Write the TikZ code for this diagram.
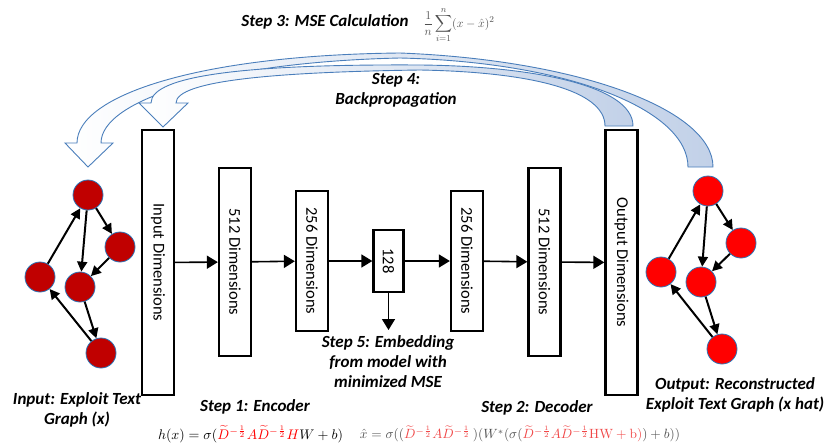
\documentclass[tikz,border=0pt]{standalone}
\usepackage[no-math]{fontspec}
\setmainfont{Carlito}
\usepackage{amsmath}
\usetikzlibrary{arrows.meta}
\definecolor{nodered}{HTML}{C00000}
\definecolor{outred}{HTML}{FF0000}
\definecolor{ringblue}{HTML}{2E75B6}
\definecolor{arcblue}{HTML}{4A7EBB}
\definecolor{arcfill}{HTML}{C2D1E8}
\definecolor{fadedred}{HTML}{F04848}
\definecolor{fadedgray}{HTML}{505050}
\begin{document}
\begin{tikzpicture}[x=1pt,y=-1pt,
  layer/.style={draw=black, line width=2.3pt, fill=white, minimum width=32pt,
    inner sep=0pt, font=\fontsize{16.5}{18}\selectfont},
  gnode/.style={circle, minimum size=30pt, inner sep=0pt, draw=ringblue, line width=0.8pt},
  gedge/.style={-{Triangle[length=10pt,width=10pt]}, line width=2pt, black},
  flow/.style={-{Triangle[length=11pt,width=13pt]}, line width=1.6pt, black},
  lbl/.style={font=\fontsize{17}{20}\selectfont\bfseries\itshape, align=center},
  bigarrow/.style={draw=arcblue, line width=0.9pt, left color=white, right color=arcfill}
]
\useasboundingbox (0,0) rectangle (829,447);

% curved backpropagation arrows (outer: graph to graph, inner: layer to layer)
\path[bigarrow]
  (713,167) .. controls (713,110) and (580,60) .. (400,53)
  .. controls (200,55) and (77,95) .. (77,143)
  -- (65,143) -- (88,167) -- (113,143) -- (101,143)
  .. controls (101,100) and (220,62) .. (400,58)
  .. controls (570,62) and (688,110) .. (688,167) -- cycle;
\path[bigarrow]
  (633,126) .. controls (633,85) and (530,66) .. (420,65)
  .. controls (250,64) and (151,75) .. (151,103)
  -- (139,103) -- (163,127) -- (188,103) -- (176,103)
  .. controls (176,80) and (280,72) .. (420,70)
  .. controls (530,72) and (605,90) .. (605,126) -- cycle;

% encoder / decoder layers
\node[layer, minimum height=265pt] (in)   at (158,262.5) {\rotatebox{-90}{Input Dimensions}};
\node[layer, minimum height=188pt] (e512) at (235,262)   {\rotatebox{-90}{512 Dimensions}};
\node[layer, minimum height=140pt] (e256) at (312,261)   {\rotatebox{-90}{256 Dimensions}};
\node[layer, minimum height=62pt, minimum width=30pt] (mid) at (388.5,261) {\rotatebox{-90}{128}};
\node[layer, minimum height=140pt] (d256) at (467,261)   {\rotatebox{-90}{256 Dimensions}};
\node[layer, minimum height=188pt] (d512) at (544.5,262) {\rotatebox{-90}{512 Dimensions}};
\node[layer, minimum height=265pt] (out)  at (621.5,262.5) {\rotatebox{-90}{Output Dimensions}};

\draw[flow] (in)   -- (e512);
\draw[flow] (e512) -- (e256);
\draw[flow] (e256) -- (mid);
\draw[flow] (mid)  -- (d256);
\draw[flow] (d256) -- (d512);
\draw[flow] (d512) -- (out);
\coordinate (emb) at (388.5,330);
\draw[flow] (mid) -- (emb);

% input graph
\begin{scope}[every node/.style={gnode, fill=nodered}]
  \node (ia) at (88,195)  {};
  \node (ib) at (120,247) {};
  \node (ic) at (40,277)  {};
  \node (id) at (80,287)  {};
  \node (ie) at (101,353) {};
\end{scope}
\draw[gedge] (ia) -- (ib);
\draw[gedge] (ia) -- (id);
\draw[gedge] (ib) -- (id);
\draw[gedge] (id) -- (ie);
\draw[gedge] (ie) -- (ic);
\draw[gedge] (ic) -- (ia);

% reconstructed graph
\begin{scope}[every node/.style={gnode, fill=outred}]
  \node (oa) at (708,191) {};
  \node (ob) at (741,243) {};
  \node (oc) at (661,272) {};
  \node (od) at (701,282) {};
  \node (oe) at (722,349) {};
\end{scope}
\draw[gedge] (oa) -- (ob);
\draw[gedge] (oa) -- (od);
\draw[gedge] (ob) -- (od);
\draw[gedge] (od) -- (oe);
\draw[gedge] (oe) -- (oc);
\draw[gedge] (oc) -- (oa);

% labels
\node[lbl] (s3) at (325,22) {Step 3: MSE Calculation};
\node[text=fadedgray, font=\fontsize{13}{15}\selectfont, inner sep=0pt] (mse) at (459,25)
  {$\displaystyle\frac{1}{n}\sum_{i=1}^{n}(x-\hat{x})^2$};
\node[lbl] (s4) at (396,90) {Step 4:\\Backpropagation};
\node[lbl] (s5) at (388,362) {Step 5: Embedding\\from model with\\minimized MSE};
\node[lbl] (inl) at (77,410) {Input: Exploit Text\\Graph (x)};
\node[lbl] (outl) at (735,395) {Output: Reconstructed\\Exploit Text Graph (x hat)};
\node[lbl] (s1) at (255,407) {Step 1: Encoder};
\node[lbl] (s2) at (537,408) {Step 2: Decoder};

% layer equations
\node[inner sep=0pt] (enc) at (250.5,434) {\resizebox{185pt}{!}{$h(x)=\sigma(\textcolor{outred}{\widetilde{D}^{-\frac{1}{2}}A\widetilde{D}^{-\frac{1}{2}}H}W+b)$}};
\node[inner sep=0pt, text=fadedgray] (dec) at (520,434) {\resizebox{320pt}{!}{$\hat{x}=\sigma((\textcolor{fadedred}{\widetilde{D}^{-\frac{1}{2}}A\widetilde{D}^{-\frac{1}{2}}}\,)(W^{*}(\sigma(\textcolor{fadedred}{\widetilde{D}^{-\frac{1}{2}}A\widetilde{D}^{-\frac{1}{2}}\mathrm{HW}+\mathrm{b})})+b))$}};
\end{tikzpicture}
\end{document}
